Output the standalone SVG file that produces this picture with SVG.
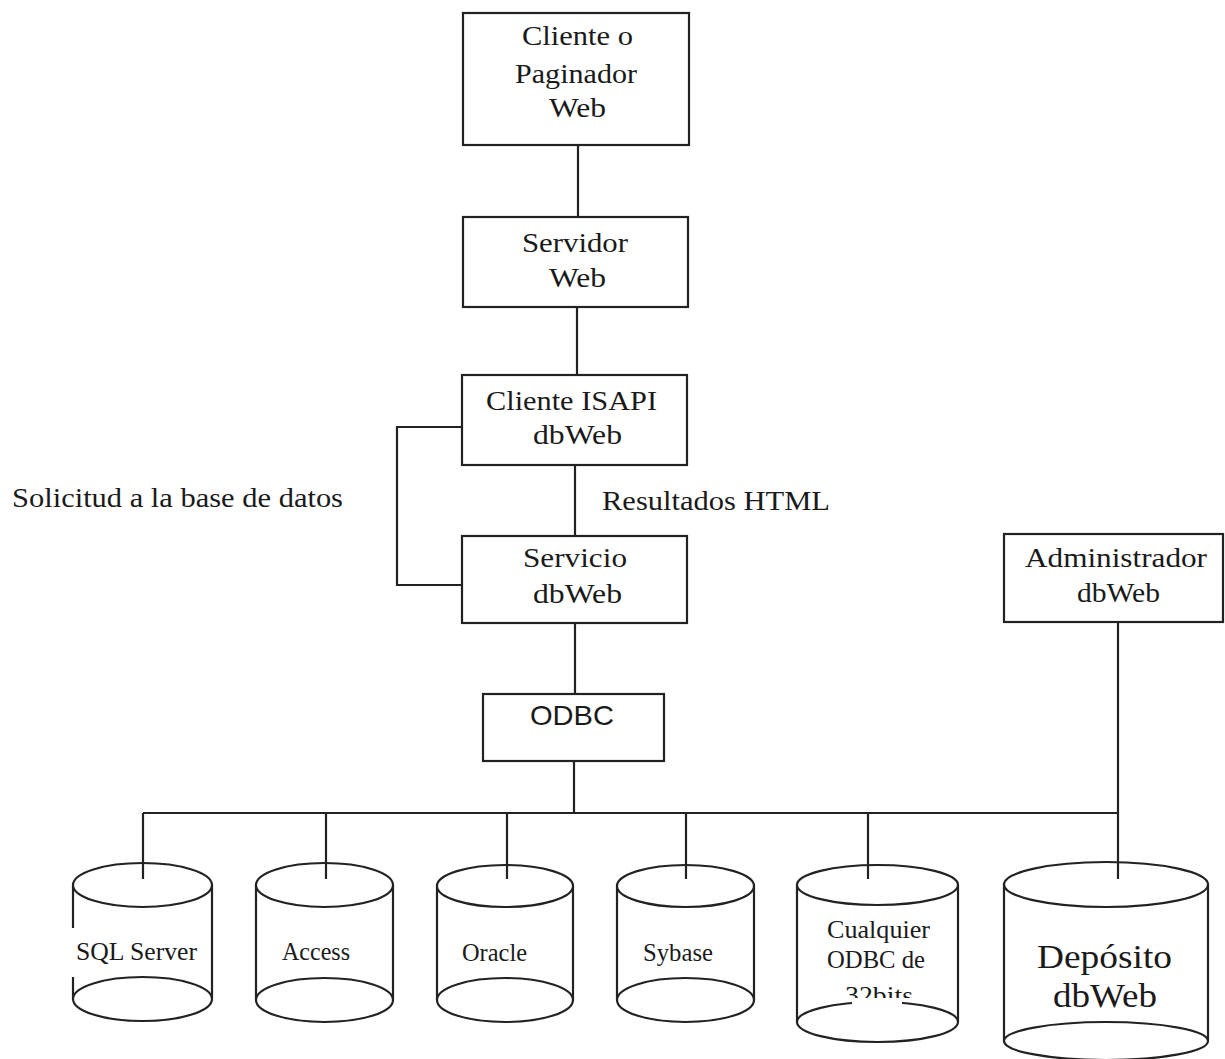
<svg xmlns="http://www.w3.org/2000/svg" width="1225" height="1059" viewBox="0 0 1225 1059">
<defs>
<style>
.box{fill:#fff;stroke:#222;stroke-width:2.2}
.ln{fill:none;stroke:#222;stroke-width:2.2}
.cyl{fill:#fff;stroke:#222;stroke-width:2.2}
text{font-family:"Liberation Serif","Times New Roman",serif;fill:#1a1a1a}
.t28{font-size:28px}
.t24{font-size:26px}
.t32{font-size:33px}
.sans{font-family:"Liberation Sans",Arial,sans-serif;font-size:28px}
</style>
<clipPath id="clip32"><rect x="830" y="975" width="100" height="23"/></clipPath>
</defs>
<rect width="1225" height="1059" fill="#fff"/>

<g id="connectors">
<line class="ln" x1="578" y1="145" x2="578" y2="217"/>
<line class="ln" x1="577" y1="307" x2="577" y2="375"/>
<line class="ln" x1="575" y1="465" x2="575" y2="536"/>
<polyline class="ln" points="462,427 397,427 397,585 462,585"/>
<line class="ln" x1="575" y1="623" x2="575" y2="694"/>
<line class="ln" x1="574" y1="761" x2="574" y2="813"/>
<line class="ln" x1="143" y1="813" x2="1118" y2="813"/>
<line class="ln" x1="1118" y1="622" x2="1118" y2="813"/>
</g>

<g id="label-solicitud"><text class="t28" x="12" y="507" textLength="331" lengthAdjust="spacingAndGlyphs">Solicitud a la base de datos</text></g>
<g id="label-resultados"><text class="t28" x="602" y="510" textLength="228" lengthAdjust="spacingAndGlyphs">Resultados HTML</text></g>

<g id="cliente-paginador">
<rect class="box" x="463" y="13" width="226" height="132"/>
<text class="t28" x="522" y="45" textLength="111" lengthAdjust="spacingAndGlyphs">Cliente o</text>
<text class="t28" x="515" y="83" textLength="122" lengthAdjust="spacingAndGlyphs">Paginador</text>
<text class="t28" x="549" y="117" textLength="57" lengthAdjust="spacingAndGlyphs">Web</text>
</g>

<g id="servidor-web">
<rect class="box" x="463" y="217" width="225" height="90"/>
<text class="t28" x="522" y="252" textLength="106" lengthAdjust="spacingAndGlyphs">Servidor</text>
<text class="t28" x="549" y="287" textLength="57" lengthAdjust="spacingAndGlyphs">Web</text>
</g>

<g id="cliente-isapi">
<rect class="box" x="462" y="375" width="225" height="90"/>
<text class="t28" x="486" y="410" textLength="171" lengthAdjust="spacingAndGlyphs">Cliente ISAPI</text>
<text class="t28" x="533" y="444" textLength="89" lengthAdjust="spacingAndGlyphs">dbWeb</text>
</g>

<g id="servicio-dbweb">
<rect class="box" x="462" y="536" width="225" height="87"/>
<text class="t28" x="523" y="567" textLength="104" lengthAdjust="spacingAndGlyphs">Servicio</text>
<text class="t28" x="533" y="603" textLength="89" lengthAdjust="spacingAndGlyphs">dbWeb</text>
</g>

<g id="odbc">
<rect class="box" x="483" y="694" width="181" height="67"/>
<text class="sans" x="530" y="725" textLength="84" lengthAdjust="spacingAndGlyphs">ODBC</text>
</g>

<g id="administrador">
<rect class="box" x="1004" y="534" width="219" height="88"/>
<text class="t28" x="1025" y="567" textLength="182" lengthAdjust="spacingAndGlyphs">Administrador</text>
<text class="t28" x="1077" y="602" textLength="83" lengthAdjust="spacingAndGlyphs">dbWeb</text>
</g>

<g id="sql-server">
<rect x="73" y="885" width="139" height="114" fill="#fff"/>
<line class="ln" x1="73" y1="885" x2="73" y2="928"/>
<line class="ln" x1="73" y1="977" x2="73" y2="999"/>
<line class="ln" x1="212" y1="885" x2="212" y2="999"/>
<ellipse class="cyl" cx="142.5" cy="885" rx="69.5" ry="22"/>
<ellipse class="cyl" cx="142.5" cy="999" rx="69.5" ry="22"/>
<line class="ln" x1="143" y1="813" x2="143" y2="879"/>
<text class="t24" x="76" y="960" textLength="121" lengthAdjust="spacingAndGlyphs">SQL Server</text>
</g>

<g id="access">
<rect x="256" y="885" width="137" height="115" fill="#fff"/>
<line class="ln" x1="256" y1="885" x2="256" y2="1000"/>
<line class="ln" x1="393" y1="885" x2="393" y2="1000"/>
<ellipse class="cyl" cx="324.5" cy="885" rx="68.5" ry="22"/>
<ellipse class="cyl" cx="324.5" cy="1000" rx="68.5" ry="22"/>
<line class="ln" x1="326" y1="813" x2="326" y2="879"/>
<text class="t24" x="282" y="960" textLength="68" lengthAdjust="spacingAndGlyphs">Access</text>
</g>

<g id="oracle">
<rect x="437" y="886" width="136" height="114" fill="#fff"/>
<line class="ln" x1="437" y1="886" x2="437" y2="1000"/>
<line class="ln" x1="573" y1="886" x2="573" y2="1000"/>
<ellipse class="cyl" cx="505" cy="886" rx="68" ry="21"/>
<ellipse class="cyl" cx="505" cy="1000" rx="68" ry="22"/>
<line class="ln" x1="507" y1="813" x2="507" y2="879"/>
<text class="t24" x="462" y="961" textLength="65" lengthAdjust="spacingAndGlyphs">Oracle</text>
</g>

<g id="sybase">
<rect x="617" y="886" width="137" height="114" fill="#fff"/>
<line class="ln" x1="617" y1="886" x2="617" y2="1000"/>
<line class="ln" x1="754" y1="886" x2="754" y2="1000"/>
<ellipse class="cyl" cx="685.5" cy="886" rx="68.5" ry="21"/>
<ellipse class="cyl" cx="685.5" cy="1000" rx="68.5" ry="22"/>
<line class="ln" x1="686" y1="813" x2="686" y2="879"/>
<text class="t24" x="643" y="961" textLength="70" lengthAdjust="spacingAndGlyphs">Sybase</text>
</g>

<g id="cualquier-odbc">
<rect x="797" y="885" width="161" height="137" fill="#fff"/>
<line class="ln" x1="797" y1="885" x2="797" y2="1022"/>
<line class="ln" x1="958" y1="885" x2="958" y2="1022"/>
<ellipse class="cyl" cx="877.5" cy="885" rx="80.5" ry="20"/>
<ellipse class="cyl" cx="877.5" cy="1022" rx="80.5" ry="20"/>
<rect x="852" y="996" width="50" height="10" fill="#fff"/>
<line class="ln" x1="868" y1="813" x2="868" y2="879"/>
<text class="t24" x="827" y="938" textLength="103" lengthAdjust="spacingAndGlyphs">Cualquier</text>
<text class="t24" x="827" y="968" textLength="98" lengthAdjust="spacingAndGlyphs">ODBC de</text>
<text class="t24" x="845" y="1004" textLength="68" lengthAdjust="spacingAndGlyphs" clip-path="url(#clip32)">32bits</text>
</g>

<g id="deposito">
<rect x="1004" y="884" width="204" height="157" fill="#fff"/>
<line class="ln" x1="1004" y1="884" x2="1004" y2="1041"/>
<line class="ln" x1="1208" y1="884" x2="1208" y2="1041"/>
<ellipse class="cyl" cx="1106" cy="884.5" rx="102" ry="22.5"/>
<ellipse class="cyl" cx="1106" cy="1041" rx="102" ry="19"/>
<line class="ln" x1="1118" y1="813" x2="1118" y2="879"/>
<text class="t32" x="1037" y="968" textLength="135" lengthAdjust="spacingAndGlyphs">Depósito</text>
<text class="t32" x="1053" y="1007" textLength="104" lengthAdjust="spacingAndGlyphs">dbWeb</text>
</g>
</svg>
